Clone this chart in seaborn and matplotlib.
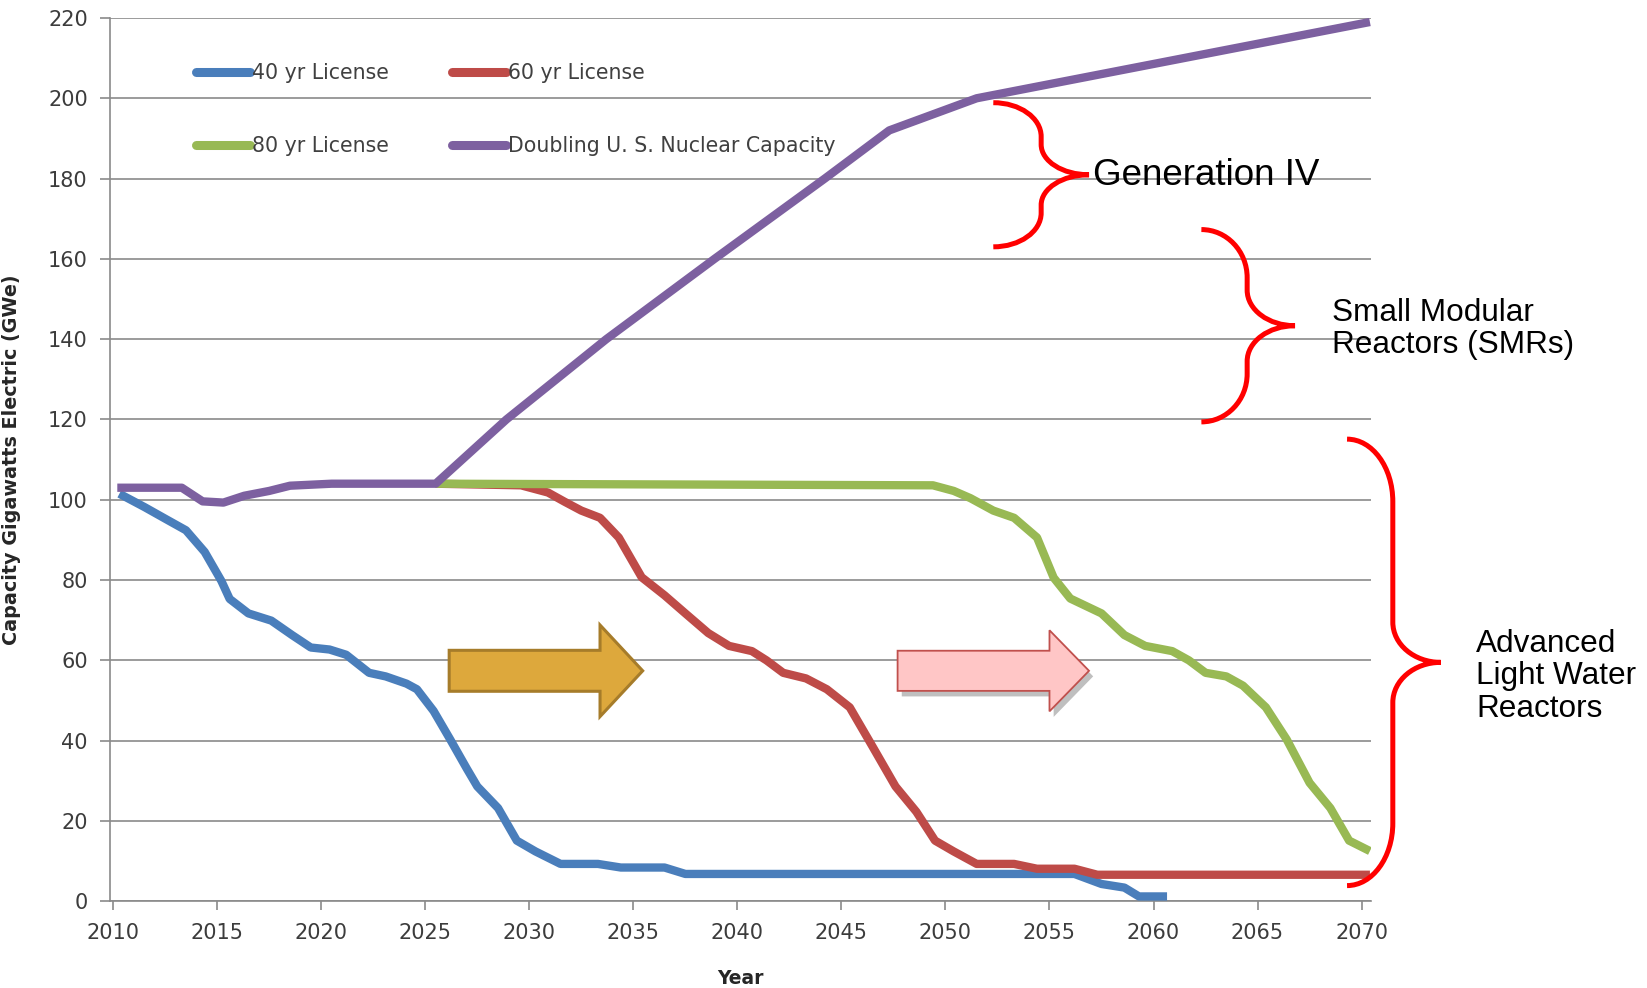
import matplotlib
matplotlib.use("Agg")
import matplotlib.pyplot as plt
import matplotlib.patheffects as pe
from matplotlib.path import Path
from matplotlib.patches import PathPatch, Polygon
from matplotlib.lines import Line2D
import seaborn as sns
import pandas as pd

# ---- data (year, GWe) ----
years_40 = [2010.3, 2011.5, 2012.6, 2013.5, 2014.4, 2015.2, 2015.6, 2016.5, 2017.6, 2018.6,
            2019.5, 2020.4, 2021.2, 2022.3, 2023.1, 2024.1, 2024.6, 2025.4, 2026.2, 2027.0,
            2027.5, 2028.5, 2029.4, 2030.3, 2031.5, 2033.3, 2034.4, 2036.5, 2037.5, 2056.2,
            2057.5, 2058.6, 2059.3, 2060.65]
gwe_40 = [101.5, 98.2, 95.0, 92.4, 87.0, 79.8, 75.3, 71.7, 69.9, 66.3,
          63.2, 62.7, 61.4, 56.9, 56.0, 54.2, 52.8, 47.4, 40.3, 33.0,
          28.6, 23.2, 15.1, 12.4, 9.3, 9.3, 8.4, 8.4, 6.8, 6.8,
          4.3, 3.4, 1.2, 1.2]

years_60 = [2025.5, 2029.6, 2030.9, 2031.7, 2032.5, 2033.4, 2034.3, 2035.4, 2036.5, 2037.5,
            2038.6, 2039.6, 2040.7, 2041.4, 2042.2, 2043.3, 2044.3, 2045.4, 2046.5, 2047.6,
            2048.6, 2049.5, 2050.4, 2051.5, 2053.3, 2054.4, 2056.2, 2057.3, 2070.4]
gwe_60 = [104.0, 103.6, 101.8, 99.5, 97.3, 95.5, 90.6, 80.7, 76.2, 71.7,
          66.8, 63.6, 62.3, 60.0, 56.9, 55.5, 52.8, 48.3, 38.5, 28.6,
          22.3, 15.1, 12.4, 9.3, 9.3, 8.1, 8.1, 6.6, 6.6]

years_80 = [2025.5, 2049.4, 2050.4, 2051.2, 2052.3, 2053.3, 2054.4, 2055.2, 2056.0, 2057.5,
            2058.6, 2059.6, 2060.9, 2061.7, 2062.5, 2063.5, 2064.3, 2065.4, 2066.4, 2067.5,
            2068.5, 2069.4, 2070.4]
gwe_80 = [104.0, 103.6, 102.2, 100.4, 97.3, 95.5, 90.6, 80.6, 75.4, 71.7,
          66.3, 63.6, 62.3, 60.0, 56.9, 56.0, 53.7, 48.3, 40.3, 29.5,
          23.2, 15.1, 12.5]

years_dbl = [2010.2, 2013.3, 2014.3, 2015.3, 2016.3, 2017.5, 2018.5, 2020.5, 2025.5, 2028.9,
             2033.7, 2038.9, 2044.2, 2047.3, 2051.5, 2070.4]
gwe_dbl = [103.0, 103.0, 99.6, 99.3, 101.0, 102.2, 103.5, 104.0, 104.0, 120.0,
           140.0, 160.0, 180.0, 192.0, 200.0, 219.0]

series_names = ["40 yr License", "60 yr License", "80 yr License",
                "Doubling U. S. Nuclear Capacity"]
series_colors = ["#4A7EBB", "#BE4B48", "#98B954", "#7D60A0"]

x_ticks = list(range(2010, 2071, 5))
y_ticks = list(range(0, 221, 20))

# annotation labels
gen4_label = "Generation IV"
smr_label = "Small Modular\nReactors (SMRs)"
alwr_label = "Advanced\nLight Water\nReactors"

sns.set_theme(style="white")
plt.rcParams["font.family"] = ["DejaVu Sans"]

fig = plt.figure(figsize=(16.47, 9.88), dpi=100)
ax = fig.add_axes([0.0668, 0.0878, 0.7656, 0.8940])

all_series = [(years_40, gwe_40), (years_60, gwe_60), (years_80, gwe_80), (years_dbl, gwe_dbl)]
for (xs, ys), name, col in zip(all_series, series_names, series_colors):
    df = pd.DataFrame({"year": xs, "gwe": ys})
    sns.lineplot(data=df, x="year", y="gwe", ax=ax, color=col, linewidth=6.0,
                 estimator=None, sort=False, legend=False,
                 solid_joinstyle="round", solid_capstyle="butt", zorder=3)

ax.set_xlim(2009.85, 2070.45)
ax.set_ylim(0, 220)
ax.set_xticks(x_ticks)
ax.set_yticks(y_ticks)

grid_col = "#8A8A8A"
ax.grid(axis="y", color=grid_col, linewidth=1.2)
ax.grid(axis="x", visible=False)
ax.set_axisbelow(True)
for side in ["top", "right"]:
    ax.spines[side].set_visible(False)
for side in ["left", "bottom"]:
    ax.spines[side].set_color(grid_col)
    ax.spines[side].set_linewidth(1.2)

ax.tick_params(axis="x", direction="out", length=6.5, width=1.2, color=grid_col,
               labelsize=15, labelcolor="#3C3C3C", pad=9, bottom=True)
ax.tick_params(axis="y", direction="out", length=7, width=1.2, color=grid_col,
               labelsize=15, labelcolor="#3C3C3C", pad=9, left=True)

ax.set_xlabel("Year", fontsize=13.5, fontweight="bold", color="#262626")
ax.set_ylabel("Capacity Gigawatts Electric (GWe)", fontsize=13.8, fontweight="bold", color="#262626")
ax.xaxis.set_label_coords(0.5, -0.077)
ax.yaxis.set_label_coords(-0.0706, 0.5)

# legend: two rows of two entries
order = [0, 2, 1, 3]
ax.legend([Line2D([], [], color=series_colors[i], linewidth=6.5, solid_capstyle="round") for i in order],
          [series_names[i] for i in order],
          ncol=2, loc="upper left", bbox_to_anchor=(0.0685, 0.9485), frameon=False,
          fontsize=14.8, labelcolor="#404040", handlelength=2.6, handletextpad=0.1,
          columnspacing=3.1, labelspacing=2.55, borderpad=0, borderaxespad=0)


def draw_brace(ax, x_back, x_mid, x_tip, top, bottom, f_end, f_tip):
    mid = (top + bottom) / 2
    half = (top - bottom) / 2
    a = f_end * half
    b = f_tip * half
    k = 0.5523
    d1 = x_mid - x_back
    d2 = x_tip - x_mid
    verts = [
        (x_back, top),
        (x_back + k * d1, top), (x_mid, top - a + k * a), (x_mid, top - a),
        (x_mid, mid + b),
        (x_mid, mid + b - k * b), (x_tip - k * d2, mid), (x_tip, mid),
        (x_tip - k * d2, mid), (x_mid, mid - b + k * b), (x_mid, mid - b),
        (x_mid, bottom + a),
        (x_mid, bottom + a - k * a), (x_back + k * d1, bottom), (x_back, bottom),
    ]
    codes = [Path.MOVETO] + [Path.CURVE4] * 3 + [Path.LINETO] + [Path.CURVE4] * 6 \
        + [Path.LINETO] + [Path.CURVE4] * 3
    ax.add_patch(PathPatch(Path(verts, codes), facecolor="none", edgecolor="#FF0000",
                           linewidth=3.6, clip_on=False, zorder=5, capstyle="butt"))


draw_brace(ax, 2052.3, 2054.6, 2056.9, 198.9, 163.0, 0.47, 0.42)
draw_brace(ax, 2062.3, 2064.5, 2066.8, 167.3, 119.4, 0.50, 0.37)
draw_brace(ax, 2069.3, 2071.5, 2073.8, 115.1, 3.9, 0.28, 0.18)

ann_font = ["Liberation Sans", "DejaVu Sans"]
ax.text(2057.1, 180.8, gen4_label, fontsize=26.5, family=ann_font, color="black",
        va="center", ha="left", clip_on=False, zorder=6)
ax.text(2068.6, 142.5, smr_label, fontsize=22.7, family=ann_font, color="black",
        va="center", ha="left", linespacing=1.08, clip_on=False, zorder=6)
ax.text(2075.5, 56.0, alwr_label, fontsize=22.7, family=ann_font, color="black",
        va="center", ha="left", linespacing=1.1, clip_on=False, zorder=6)


def block_arrow(x0, xb, xt, yc, shaft_half, head_half):
    return [(x0, yc + shaft_half), (xb, yc + shaft_half), (xb, yc + head_half), (xt, yc),
            (xb, yc - head_half), (xb, yc - shaft_half), (x0, yc - shaft_half)]


ax.add_patch(Polygon(block_arrow(2026.15, 2033.4, 2035.45, 57.4, 5.1, 11.4), closed=True,
                     facecolor="#DDA83C", edgecolor="#A67C2A", linewidth=2.2, zorder=4))
ax.add_patch(Polygon(block_arrow(2047.7, 2055.0, 2056.9, 57.4, 5.0, 10.1), closed=True,
                     facecolor="#FFC6C6", edgecolor="#C0504D", linewidth=1.3, zorder=4,
                     path_effects=[pe.SimplePatchShadow(offset=(3, -4), shadow_rgbFace="#808080",
                                                        alpha=0.5), pe.Normal()]))

fig.savefig("out.png", dpi=100, facecolor="white")
